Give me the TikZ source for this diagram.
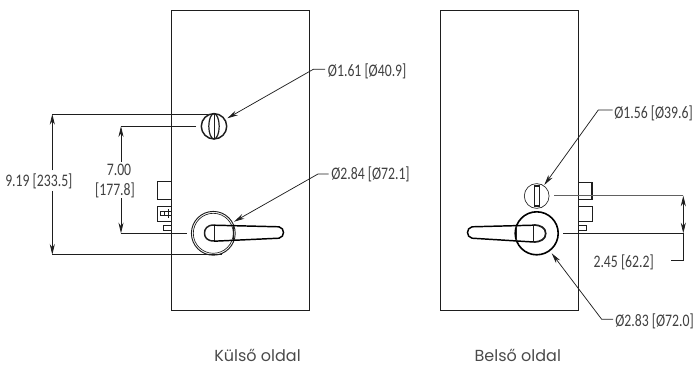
\documentclass[tikz,border=0pt]{standalone}
\usepackage{fontspec}
\setmainfont[FakeStretch=0.78]{Carlito}
\newfontfamily\capfont{Poppins}
\usetikzlibrary{arrows.meta}
\definecolor{ink}{HTML}{1E1E1E}
\definecolor{dimtext}{HTML}{404040}
\definecolor{captext}{HTML}{4A4A4A}
\tikzset{
  thinline/.style={draw=ink,line width=0.5pt},
  plate/.style={draw=ink,line width=0.75pt},
  heavy/.style={draw=ink,line width=1.1pt},
  boldline/.style={draw=black,line width=1.2pt},
  dimline/.style={draw=ink,line width=0.55pt},
  arrowed/.style={dimline,-{Stealth[length=8pt,width=3.8pt]}},
  dimlabel/.style={font=\fontsize{13.2}{15}\selectfont,text=dimtext,inner sep=0pt},
  caption/.style={font=\capfont\fontsize{12}{14}\selectfont,text=captext,inner sep=0pt}
}
\begin{document}
\begin{tikzpicture}[x=0.75pt,y=-0.75pt]
\useasboundingbox (0,0) rectangle (696,367);
% plates
\draw[plate] (171.7,10.7) rectangle (309.7,310);
\draw[plate] (440.3,10.7) rectangle (578,310);
% left side boxes
\draw[thinline] (171.7,181.7) -- (157.3,181.7) -- (157.3,199.3) -- (171.7,199.3);
\draw[thinline] (171.7,206) -- (157.3,206) -- (157.3,221.7) -- (171.7,221.7);
\draw[thinline] (171.7,211.7) -- (160.5,211.7) -- (160.5,215.7) -- (171.7,215.7);
\draw[thinline] (164,211.7) -- (164,215.7) (168.5,209.5) -- (168.5,218);
\draw[thinline] (171.7,225.3) -- (163.3,225.3) -- (163.3,230.5) -- (171.7,230.5);
% right side boxes
\draw[thinline] (578,182) -- (592.7,182) -- (592.7,199.3) -- (578,199.3);
\draw[thinline] (591.2,182) -- (591.2,199.3);
\draw[thinline] (578,206) -- (592.7,206) -- (592.7,221.7) -- (578,221.7);
\draw[heavy,line width=0.7pt] (578,225.3) -- (586,225.3) -- (586,230.7) -- (578,230.7);
% left thumbturn
\draw[heavy] (214,126.3) circle (12.7);
\draw[heavy,line width=0.9pt] (214,126.3) ellipse (5.2 and 12.7);
\draw[thinline] (214,113.8) -- (214,138.8);
% left rose and lever
\draw[heavy,line width=0.7pt] (213.3,233.3) circle (21.9);
\draw[thinline] (213.3,233.3) circle (20);
\draw[heavy] (214,225) .. controls (207,225) and (204.5,229) .. (204.5,233) .. controls (204.5,237.5) and (207,241) .. (214,241);
\draw[thinline] (214,225) -- (214,241);
\draw[boldline,line width=1.1pt] (214,225.2) -- (279,226.8) .. controls (285,228) and (285,237) .. (279,238.2) -- (214,241.2);
\draw[thinline] (233.3,225.7) -- (233.3,240.3);
% right thumbturn
\draw[thinline] (536.7,196) circle (12.4);
\draw[thinline] (534.3,185) rectangle (539,206.5);
\draw[heavy,line width=0.9pt] (534.3,186) -- (539,186) (534.3,205.5) -- (539,205.5);
% right rose and lever
\draw[boldline] (536.7,233.3) circle (21.5);
\draw[heavy,line width=1.3pt] (533.3,225) .. controls (541,225) and (545.7,228) .. (545.7,233.5) .. controls (545.7,239) and (541,242) .. (533.3,242);
\draw[thinline] (533.3,225) -- (533.3,242);
\draw[boldline,line width=1.1pt] (533.3,225.2) -- (472,226.8) .. controls (466,228) and (466,237) .. (472,238.2) -- (533.3,242);
\draw[thinline] (516.7,226) -- (516.7,241);
% labels
\node[dimlabel,anchor=west] (d161) at (327.7,71.7) {Ø1.61 [Ø40.9]};
\node[dimlabel,anchor=west] (d284) at (331,174) {Ø2.84 [Ø72.1]};
\node[dimlabel,anchor=west] (d156) at (614,113) {Ø1.56 [Ø39.6]};
\node[dimlabel,anchor=west] (d283) at (615,321.7) {Ø2.83 [Ø72.0]};
\node[dimlabel,anchor=east] (d919) at (72.7,181.5) {9.19 [233.5]};
\node[dimlabel] (d700a) at (119,170) {7.00};
\node[dimlabel] (d700b) at (115,190.7) {[177.8]};
\node[dimlabel,anchor=west] (d245) at (593.3,262.7) {2.45 [62.2]};
\node[caption] (capa) at (257.5,355.5) {Külső oldal};
\node[caption] (capb) at (517.8,355.5) {Belső oldal};
% connector coordinates
\coordinate (tipa) at (227.3,118.3);
\coordinate (kneea) at (313.3,69.3);
\coordinate (enda) at (325,69.3);
\coordinate (tipb) at (234,221.7);
\coordinate (kneeb) at (318,174);
\coordinate (endb) at (328.5,174);
\coordinate (tipc) at (544.3,185);
\coordinate (kneec) at (598.3,110);
\coordinate (endc) at (612.7,110);
\coordinate (tipd) at (551.7,253.3);
\coordinate (kneed) at (601.7,319.3);
\coordinate (endd) at (613,319.3);
\draw[arrowed] (enda) -- (kneea) -- (tipa);
\draw[arrowed] (endb) -- (kneeb) -- (tipb);
\draw[arrowed] (endc) -- (kneec) -- (tipc);
\draw[arrowed] (endd) -- (kneed) -- (tipd);
% dimension 9.19
\coordinate (a1) at (208,114);
\coordinate (a2) at (52.3,114);
\coordinate (a3) at (222,254.7);
\coordinate (a4) at (52.3,254.7);
\draw[dimline] (a1) -- (a2) (a3) -- (a4);
\draw[arrowed] (52.3,170.5) -- (a2);
\draw[arrowed] (52.3,191) -- (a4);
% dimension 7.00
\coordinate (b1) at (196,126.3);
\coordinate (b2) at (121,126.3);
\coordinate (b3) at (186.7,233.3);
\coordinate (b4) at (121,233.3);
\draw[dimline] (b1) -- (b2) (b3) -- (b4);
\draw[arrowed] (121,162) -- (b2);
\draw[arrowed] (121,198) -- (b4);
% dimension 2.45
\coordinate (c1) at (554,195.7);
\coordinate (c2) at (683.3,195.7);
\coordinate (c3) at (563,233.3);
\coordinate (c4) at (683.3,233.3);
\coordinate (c5) at (683.3,260.7);
\coordinate (c6) at (671,260.7);
\draw[dimline,draw=ink!70,line width=0.7pt] (c1) -- (c2);
\draw[dimline] (c3) -- (c4) -- (c5) -- (c6);
\draw[arrowed] (683.3,214.5) -- (c2);
\draw[arrowed] (683.3,214.5) -- (c4);
\end{tikzpicture}
\end{document}
